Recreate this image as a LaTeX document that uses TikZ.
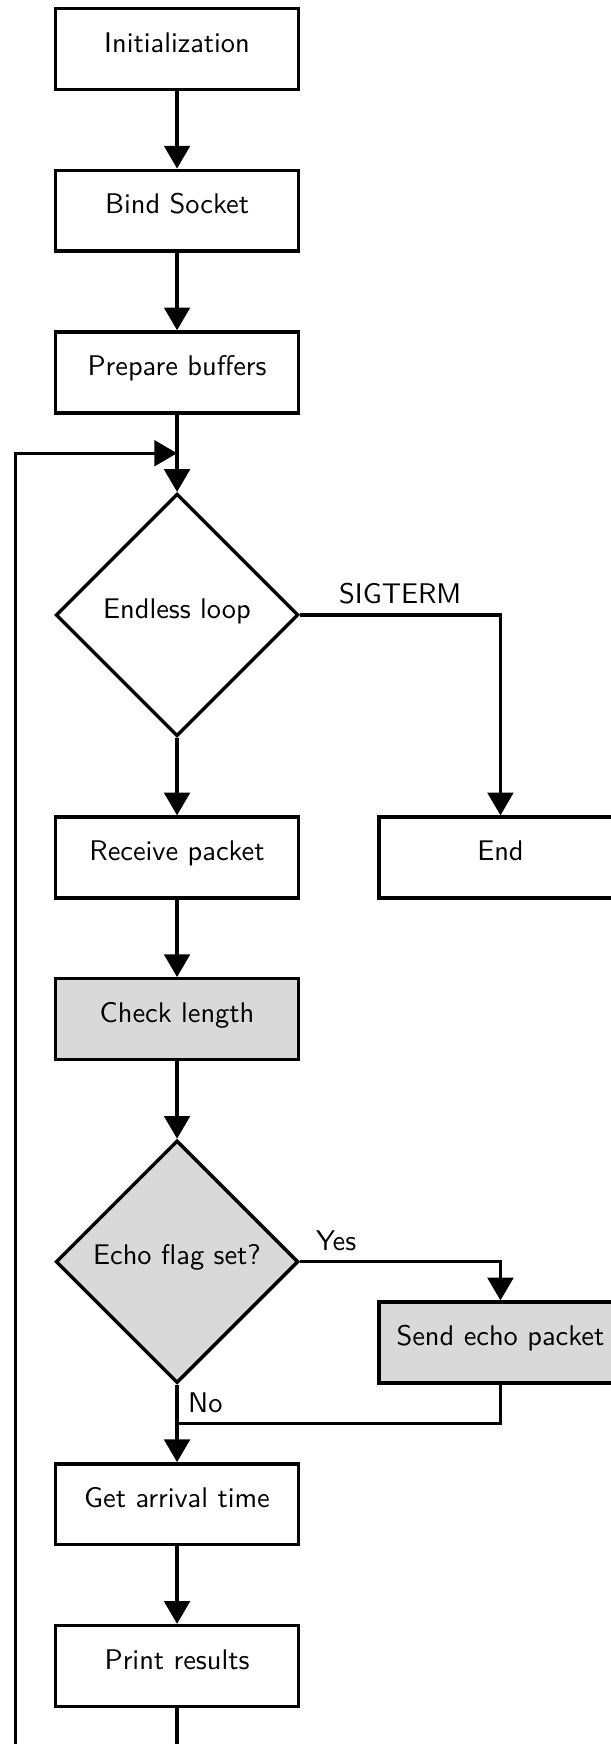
\documentclass[tikz,border=0pt]{standalone}
\usetikzlibrary{shapes.geometric,arrows.meta}
\begin{document}
\begin{tikzpicture}[
  font=\sffamily,
  line width=1.2pt,
  >={Triangle[length=8pt,width=9pt]},
  base/.style={draw, line width=1.2pt, text height=7pt, text depth=4.8pt},
  proc/.style={base, rectangle, minimum width=3cm, minimum height=1cm},
  decision/.style={base, diamond, minimum width=3cm, minimum height=3cm, inner sep=1pt},
  shaded/.style={fill=gray!30}
]
% visible window of the flowchart
\clip (-2.19,0.606) rectangle (5.367,-20.965);

% main column
\node[proc] (init) at (0,0) {Initialization};
\node[proc] (bind) at (0,-2) {Bind Socket};
\node[proc] (prep) at (0,-4) {Prepare buffers};
\coordinate (join) at (0,-5);
\node[decision] (loop) at (0,-7) {Endless loop};
\node[proc] (recv) at (0,-10) {Receive packet};
\node[proc, shaded] (check) at (0,-12) {Check length};
\node[decision, shaded] (echo) at (0,-15) {Echo flag set?};
\coordinate (merge) at (0,-17);
\node[proc] (arrive) at (0,-18) {Get arrival time};
\node[proc] (print) at (0,-20) {Print results};

% side column
\node[proc] (stop) at (4,-10) {End};
\node[proc, shaded] (send) at (4,-16) {Send echo packet};

% corners of the loop back to the top
\coordinate (loopbot) at (0,-21.5);
\coordinate (loopleft) at (-2,-21.5);
\coordinate (looptop) at (-2,-5);

% connectors
\draw[->] (init) -- (bind);
\draw[->] (bind) -- (prep);
\draw[->] (prep) -- (loop);
\draw[->] (loop) -- (recv);
\draw[->] (loop) -| node[pos=0.25, above] {SIGTERM} (stop);
\draw[->] (recv) -- (check);
\draw[->] (check) -- (echo);
\draw[->] (echo) -| node[pos=0.09, above] {Yes} (send);
\draw[->] (echo) -- node[pos=0.23, right] {No} (arrive);
\draw (send) |- (merge);
\draw[->] (arrive) -- (print);
\draw[->] (print.south) -- (loopbot) -- (loopleft) -- (looptop) -- (join);
\end{tikzpicture}
\end{document}
